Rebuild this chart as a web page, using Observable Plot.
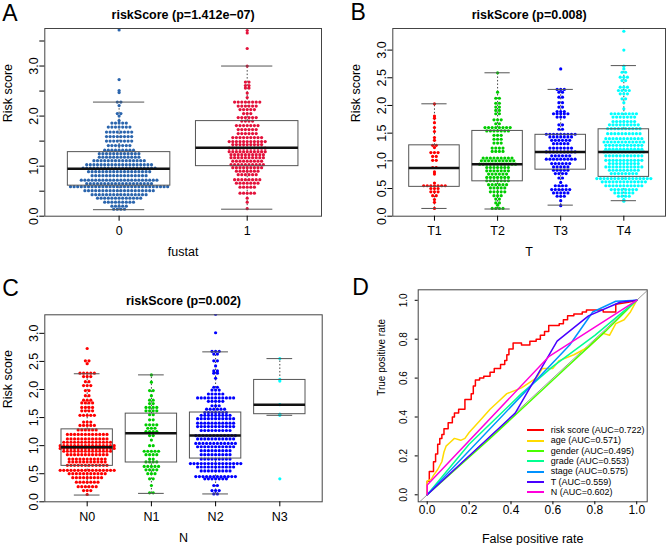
<!DOCTYPE html>
<html><head><meta charset="utf-8">
<script src="https://cdn.jsdelivr.net/npm/d3@7"></script>
<script src="https://cdn.jsdelivr.net/npm/@observablehq/plot@0.6"></script>
<style>
body{margin:0;background:#fff;}
#wrap{position:relative;width:670px;height:545px;overflow:hidden;background:#fff;font-family:"Liberation Sans",Arial,Helvetica,sans-serif;}
.panel{position:absolute;}
.panel svg{display:block;}
.lg{position:absolute;font-size:9px;line-height:10.3px;height:10.3px;white-space:nowrap;color:#000;}
.lg span.sw{position:absolute;left:0;top:4.2px;width:17px;height:2px;}
.lg span.tx{position:absolute;left:24px;top:0;}
</style></head><body><div id="wrap"></div>
<script>
// ---------- Panel A: fustat ----------
const fustatLabels = ["0", "1"];
const fustatColors = ["#2B65AD", "#E3123B"];
// [value, count] rows of the beeswarm
const fustat0Rows = [[3.72,1],[2.73,1],[2.51,1],[2.47,1],[2.28,2],[2.21,1],[2.05,2],[2.0,1],[1.91,1],[1.86,5],[1.78,7],[1.68,8],[1.59,8],[1.5,8],[1.41,7],[1.32,9],[1.25,12],[1.18,12],[1.11,15],[1.03,19],[0.96,21],[0.89,18],[0.81,16],[0.72,22],[0.65,19],[0.59,28],[0.51,20],[0.43,16],[0.36,13],[0.28,9],[0.2,5],[0.14,4]];
const fustat1Rows = [[3.71,1],[3.66,1],[3.35,1],[3.0,1],[2.68,2],[2.61,2],[2.56,2],[2.46,1],[2.37,1],[2.28,8],[2.2,6],[2.13,5],[2.05,3],[1.97,6],[1.9,4],[1.81,7],[1.73,6],[1.65,6],[1.57,9],[1.49,11],[1.43,9],[1.36,11],[1.29,11],[1.23,10],[1.17,10],[1.1,9],[1.03,10],[0.97,9],[0.9,7],[0.83,6],[0.73,8],[0.66,7],[0.58,5],[0.46,5],[0.36,1],[0.28,1],[0.15,1]];
const fustatLo = [0.13, 0.14];
const fustatQ1 = [0.61, 1.0];
const fustatMed = [0.95, 1.37];
const fustatQ3 = [1.28, 1.9];
const fustatHi = [2.28, 3.0];

// ---------- Panel B: T ----------
const tLabels = ["T1", "T2", "T3", "T4"];
const tColors = ["#FF0000", "#00CD00", "#0000FF", "#00FFFF"];
const t1Rows = [[2.03,1],[1.81,1],[1.77,1],[1.69,1],[1.6,1],[1.53,1],[1.42,1],[1.37,1],[1.28,2],[1.24,1],[1.15,3],[1.08,2],[1.01,2],[0.88,2],[0.8,1],[0.76,1],[0.6,1],[0.55,7],[0.5,3],[0.44,3],[0.37,2],[0.3,1],[0.25,1],[0.14,1]];
const t2Rows = [[2.59,1],[2.24,1],[2.13,2],[2.04,2],[1.97,2],[1.91,2],[1.85,2],[1.74,3],[1.67,2],[1.6,8],[1.54,7],[1.46,3],[1.39,3],[1.32,3],[1.23,4],[1.17,4],[1.05,9],[1.0,10],[0.94,11],[0.88,7],[0.82,7],[0.76,6],[0.7,7],[0.64,7],[0.57,6],[0.51,5],[0.44,5],[0.37,3],[0.31,2],[0.24,2],[0.2,1],[0.14,4]];
const t3Rows = [[2.66,1],[2.29,3],[2.24,2],[2.15,2],[2.05,2],[1.97,2],[1.89,3],[1.85,5],[1.79,3],[1.65,2],[1.57,2],[1.48,9],[1.43,7],[1.37,6],[1.31,5],[1.23,7],[1.16,9],[1.09,6],[1.03,9],[0.95,6],[0.89,5],[0.83,5],[0.77,4],[0.69,2],[0.61,1],[0.55,4],[0.48,6],[0.42,5],[0.36,3],[0.28,1],[0.19,1]];
const t4Rows = [[3.34,1],[3.0,1],[2.71,1],[2.66,1],[2.6,2],[2.51,3],[2.45,2],[2.33,3],[2.27,4],[2.21,3],[2.12,2],[2.05,1],[1.94,1],[1.85,8],[1.79,7],[1.71,7],[1.65,9],[1.58,10],[1.49,10],[1.4,11],[1.34,12],[1.28,11],[1.21,11],[1.16,12],[1.09,11],[1.01,11],[0.95,9],[0.89,11],[0.83,9],[0.77,8],[0.68,16],[0.62,13],[0.55,11],[0.48,8],[0.42,6],[0.36,4],[0.3,1],[0.27,1]];
const tLo = [0.14, 0.13, 0.2, 0.28];
const tQ1 = [0.53, 0.63, 0.84, 0.71];
const tMed = [0.87, 0.94, 1.16, 1.16];
const tQ3 = [1.28, 1.54, 1.47, 1.57];
const tHi = [2.03, 2.59, 2.29, 2.72];

// ---------- Panel C: N ----------
const nLabels = ["N0", "N1", "N2", "N3"];
const nColors = ["#FF0000", "#00CD00", "#0000FF", "#00FFFF"];
const n0Rows = [[2.73,1],[2.51,2],[2.46,1],[2.29,5],[2.23,3],[2.14,2],[2.07,3],[1.98,2],[1.89,2],[1.81,3],[1.76,4],[1.68,4],[1.62,4],[1.54,5],[1.42,3],[1.36,5],[1.28,6],[1.2,12],[1.12,12],[1.06,14],[1.0,16],[0.95,16],[0.9,14],[0.84,12],[0.76,11],[0.71,11],[0.65,12],[0.56,16],[0.5,11],[0.43,9],[0.35,7],[0.27,6],[0.2,3],[0.13,1]];
const n1Rows = [[2.26,1],[2.13,1],[1.98,2],[1.89,1],[1.81,2],[1.75,2],[1.68,4],[1.62,4],[1.55,2],[1.46,2],[1.37,4],[1.31,3],[1.25,4],[1.18,2],[1.1,1],[1.0,2],[0.9,5],[0.84,4],[0.76,2],[0.71,4],[0.63,5],[0.57,4],[0.5,3],[0.41,2],[0.29,1],[0.16,2]];
const n2Rows = [[3.34,1],[3.01,1],[2.68,3],[2.63,2],[2.51,2],[2.42,1],[2.33,2],[2.29,2],[2.2,1],[2.04,2],[1.99,3],[1.92,5],[1.85,11],[1.79,5],[1.71,3],[1.65,6],[1.59,7],[1.54,9],[1.48,11],[1.4,11],[1.34,11],[1.27,9],[1.18,12],[1.12,11],[1.04,12],[0.98,11],[0.91,9],[0.84,9],[0.76,9],[0.68,15],[0.62,11],[0.55,9],[0.45,12],[0.41,7],[0.29,2],[0.2,3],[0.14,2]];
const n3Rows = [[2.55,1],[2.18,1],[2.15,1],[1.73,1],[1.56,1],[1.54,1],[0.41,1]];
const nLo = [0.12, 0.15, 0.14, 1.54];
const nQ1 = [0.64, 0.7, 0.77, 1.56];
const nMed = [0.97, 1.22, 1.18, 1.73];
const nQ3 = [1.29, 1.57, 1.59, 2.17];
const nHi = [2.28, 2.26, 2.67, 2.55];

// ---------- Panel D: ROC ----------
const rocLabels = ["risk score (AUC=0.722)", "age (AUC=0.571)", "gender (AUC=0.495)", "grade (AUC=0.553)", "stage (AUC=0.575)", "T (AUC=0.559)", "N (AUC=0.602)"];
const rocColors = ["#FF0000", "#FFDB00", "#49FF00", "#00FF92", "#0092FF", "#4900FF", "#FF00DB"];
const rocRisk = [[0,0],[0,0.07],[0.01,0.07],[0.01,0.12],[0.03,0.12],[0.03,0.17],[0.04,0.17],[0.04,0.21],[0.05,0.21],[0.05,0.26],[0.06,0.26],[0.06,0.29],[0.07,0.29],[0.07,0.31],[0.08,0.31],[0.08,0.34],[0.1,0.34],[0.1,0.37],[0.12,0.37],[0.12,0.4],[0.13,0.4],[0.13,0.42],[0.15,0.42],[0.15,0.44],[0.18,0.44],[0.18,0.49],[0.21,0.49],[0.21,0.52],[0.22,0.52],[0.22,0.56],[0.23,0.56],[0.23,0.59],[0.25,0.59],[0.25,0.6],[0.27,0.6],[0.27,0.61],[0.3,0.61],[0.3,0.63],[0.32,0.63],[0.32,0.65],[0.35,0.65],[0.35,0.67],[0.37,0.67],[0.37,0.69],[0.38,0.69],[0.38,0.72],[0.39,0.72],[0.39,0.75],[0.41,0.75],[0.41,0.78],[0.45,0.78],[0.45,0.77],[0.49,0.77],[0.49,0.79],[0.52,0.79],[0.52,0.8],[0.54,0.8],[0.54,0.82],[0.56,0.82],[0.56,0.84],[0.58,0.84],[0.58,0.87],[0.63,0.87],[0.63,0.88],[0.65,0.88],[0.65,0.9],[0.67,0.9],[0.67,0.92],[0.7,0.92],[0.7,0.93],[0.74,0.93],[0.74,0.94],[0.76,0.94],[0.76,0.95],[0.84,0.95],[0.84,0.94],[0.9,0.94],[0.9,0.98],[0.96,0.99],[1,1]];
const rocAge = [[0,0],[0,0.07],[0.02,0.08],[0.03,0.1],[0.05,0.13],[0.07,0.17],[0.08,0.22],[0.09,0.25],[0.11,0.27],[0.13,0.29],[0.16,0.28],[0.18,0.29],[0.2,0.32],[0.25,0.38],[0.3,0.44],[0.34,0.48],[0.38,0.52],[0.45,0.55],[0.52,0.6],[0.55,0.65],[0.6,0.65],[0.63,0.69],[0.7,0.72],[0.77,0.76],[0.81,0.8],[0.84,0.83],[0.87,0.82],[0.9,0.88],[0.94,0.9],[0.97,0.94],[1,1]];
const rocGender = [[0,0],[0.3,0.29],[0.6,0.59],[0.85,0.84],[1,1]];
const rocGrade = [[0,0],[0.2,0.26],[0.45,0.52],[0.6,0.66],[0.8,0.82],[1,1]];
const rocStage = [[0,0],[0.68,0.77],[0.79,0.94],[0.9,0.995],[1,1]];
const rocT = [[0,0],[0.42,0.42],[0.62,0.79],[0.77,0.92],[0.92,0.99],[1,1]];
const rocN = [[0,0],[0,0.05],[0.58,0.71],[1,1]];
const rocTicks = [0, 0.2, 0.4, 0.6, 0.8, 1.0];

// ---------- layout helpers ----------
const FONT = '"Liberation Sans", Arial, Helvetica, sans-serif';
const DOT_R = 1.6, DOT_D = 3.6;

// beeswarm rows: points of one row are laid side by side, centred on the group
function buildPoints(rowsList, colors, pxX) {
  const pts = [];
  rowsList.forEach((rows, gi) => {
    rows.forEach(([v, c]) => {
      for (let k = 0; k < c; k++) {
        const off = (k - (c - 1) / 2) * DOT_D;
        pts.push({x: gi + 1 + off / pxX, y: v, fill: colors[gi]});
      }
    });
  });
  return pts;
}

function boxPanel(cfg) {
  const {width, height, mL, mR, mT, mB, xDomain, yDomain, labels, colors, rows, lo, q1, med, q3, hi,
         yTicks, yLabelTicks, title, xTitle, letter, letterDx, letterDy} = cfg;
  const pxX = (width - mL - mR) / (xDomain[1] - xDomain[0]);
  const pts = buildPoints(rows, colors, pxX);
  const stats = labels.map((l, i) => ({i: i + 1, lo: lo[i], q1: q1[i], med: med[i], q3: q3[i], hi: hi[i]}));
  return Plot.plot({
    width, height, marginLeft: mL, marginRight: mR, marginTop: mT, marginBottom: mB,
    x: {domain: xDomain, axis: null},
    y: {domain: yDomain, axis: null},
    color: {type: "identity"},
    style: {fontFamily: FONT, fontSize: "12.5px", background: "white", color: "black", overflow: "visible"},
    marks: [
      Plot.ruleX(stats, {x: "i", y1: "q3", y2: "hi", stroke: "#444", strokeDasharray: "1.5,2"}),
      Plot.ruleX(stats, {x: "i", y1: "lo", y2: "q1", stroke: "#444", strokeDasharray: "1.5,2"}),
      Plot.dot(pts, {x: "x", y: "y", r: DOT_R, fill: "fill", clip: true}),
      Plot.rect(stats, {x1: d => d.i - 0.4, x2: d => d.i + 0.4, y1: "q1", y2: "q3", fill: "none", stroke: "#555"}),
      Plot.ruleY(stats, {x1: d => d.i - 0.4, x2: d => d.i + 0.4, y: "med", stroke: "#111", strokeWidth: 2.5}),
      Plot.ruleY(stats, {x1: d => d.i - 0.2, x2: d => d.i + 0.2, y: "hi", stroke: "#555"}),
      Plot.ruleY(stats, {x1: d => d.i - 0.2, x2: d => d.i + 0.2, y: "lo", stroke: "#555"}),
      Plot.frame({stroke: "#444"}),
      Plot.axisX({ticks: stats.map(d => d.i), tickSize: 5, tickPadding: 5, tickFormat: i => labels[i - 1], label: null}),
      Plot.axisY({ticks: yTicks, tickSize: 5, tickFormat: () => "", label: null}),
      Plot.text(yLabelTicks, {y: d => d, text: d => d.toFixed(1), frameAnchor: "left", dx: -11, rotate: -90, textAnchor: "middle", lineAnchor: "middle"}),
      Plot.text([title], {text: d => d, frameAnchor: "top", dy: -14, fontWeight: "bold", lineAnchor: "middle"}),
      Plot.text([xTitle], {text: d => d, frameAnchor: "bottom", dy: 36, lineAnchor: "middle"}),
      Plot.text(["Risk score"], {text: d => d, frameAnchor: "left", dx: -37, rotate: -90, lineAnchor: "middle"}),
      Plot.text([letter], {text: d => d, frameAnchor: "top-left", dx: letterDx, dy: letterDy, fontSize: 23, textAnchor: "start", lineAnchor: "bottom"})
    ]
  });
}

const wrap = document.getElementById("wrap");
function place(node, left, top) {
  const div = document.createElement("div");
  div.className = "panel";
  div.style.left = left + "px";
  div.style.top = top + "px";
  div.appendChild(node);
  wrap.appendChild(div);
}

const halfTicks = [0, 0.5, 1, 1.5, 2, 2.5, 3, 3.5];

place(boxPanel({
  width: 335, height: 272, mL: 44.3, mR: 14, mT: 28, mB: 56.3,
  xDomain: [0.42, 2.58], yDomain: [0, 3.75],
  labels: fustatLabels, colors: fustatColors, rows: [fustat0Rows, fustat1Rows],
  lo: fustatLo, q1: fustatQ1, med: fustatMed, q3: fustatQ3, hi: fustatHi,
  yTicks: halfTicks, yLabelTicks: [0, 1, 2, 3],
  title: "riskScore (p=1.412e\u221207)", xTitle: "fustat", letter: "A", letterDx: -42.6, letterDy: -8
}), 0, 0);

place(boxPanel({
  width: 335, height: 272, mL: 57.3, mR: 5, mT: 28, mB: 56.3,
  xDomain: [0.34, 4.66], yDomain: [0, 3.39],
  labels: tLabels, colors: tColors, rows: [t1Rows, t2Rows, t3Rows, t4Rows],
  lo: tLo, q1: tQ1, med: tMed, q3: tQ3, hi: tHi,
  yTicks: [0, 0.5, 1, 1.5, 2, 2.5, 3], yLabelTicks: [0, 0.5, 1, 1.5, 2, 2.5, 3],
  title: "riskScore (p=0.008)", xTitle: "T", letter: "B", letterDx: -42.3, letterDy: -8.5
}), 335, 0);

place(boxPanel({
  width: 335, height: 273, mL: 44.3, mR: 13.3, mT: 42.3, mB: 43.7,
  xDomain: [0.34, 4.66], yDomain: [0, 3.33],
  labels: nLabels, colors: nColors, rows: [n0Rows, n1Rows, n2Rows, n3Rows],
  lo: nLo, q1: nQ1, med: nMed, q3: nQ3, hi: nHi,
  yTicks: [0, 0.5, 1, 1.5, 2, 2.5, 3], yLabelTicks: [0, 0.5, 1, 1.5, 2, 2.5, 3],
  title: "riskScore (p=0.002)", xTitle: "N", letter: "C", letterDx: -42.6, letterDy: -19.3
}), 0, 272);

// ROC panel
const rocSeries = [rocRisk, rocAge, rocGender, rocGrade, rocStage, rocT, rocN];
const dX = [-0.043, 1.05], dY = [-0.036, 1.054];
const rocPlot = Plot.plot({
  width: 335, height: 273, marginLeft: 82.7, marginRight: 23.3, marginTop: 17.3, marginBottom: 43.7,
  x: {domain: dX, axis: null}, y: {domain: dY, axis: null},
  style: {fontFamily: FONT, fontSize: "12px", background: "white", color: "black", overflow: "visible"},
  marks: [
    Plot.line(dX, {x: d => d, y: d => d, stroke: "#9a9a9a", strokeWidth: 1, clip: true}),
    ...rocSeries.map((s, i) => Plot.line(s, {x: d => d[0], y: d => d[1], stroke: rocColors[i], strokeWidth: 1.5})),
    Plot.frame({stroke: "#444"}),
    Plot.axisX({ticks: rocTicks, tickSize: 3, tickFormat: () => "", label: null}),
    Plot.axisY({ticks: rocTicks, tickSize: 3, tickFormat: () => "", label: null}),
    Plot.text(rocTicks, {x: d => d, text: d => d.toFixed(1), frameAnchor: "bottom", dy: 8.5, lineAnchor: "middle", fontSize: 12}),
    Plot.text(rocTicks, {y: d => d, text: d => d.toFixed(1), frameAnchor: "left", dx: -14.4, rotate: -90, textAnchor: "middle", lineAnchor: "middle", fontSize: 10}),
    Plot.text(["False positive rate"], {text: d => d, frameAnchor: "bottom", dy: 37.4, lineAnchor: "middle", fontSize: 12.5}),
    Plot.text(["True positive rate"], {text: d => d, frameAnchor: "left", dx: -36, rotate: -90, lineAnchor: "middle", fontSize: 10}),
    Plot.text(["D"], {text: d => d, frameAnchor: "top-left", dx: -66, dy: 4.7, fontSize: 23, textAnchor: "start", lineAnchor: "bottom"})
  ]
});
place(rocPlot, 335, 272);

// ROC legend
rocLabels.forEach((lab, i) => {
  const row = document.createElement("div");
  row.className = "lg";
  row.style.left = "526.7px";
  row.style.top = (430.3 + 10.3 * i - 5.15) + "px";
  const sw = document.createElement("span");
  sw.className = "sw";
  sw.style.background = rocColors[i];
  const tx = document.createElement("span");
  tx.className = "tx";
  tx.textContent = lab;
  row.appendChild(sw);
  row.appendChild(tx);
  wrap.appendChild(row);
});
</script>
</body></html>
